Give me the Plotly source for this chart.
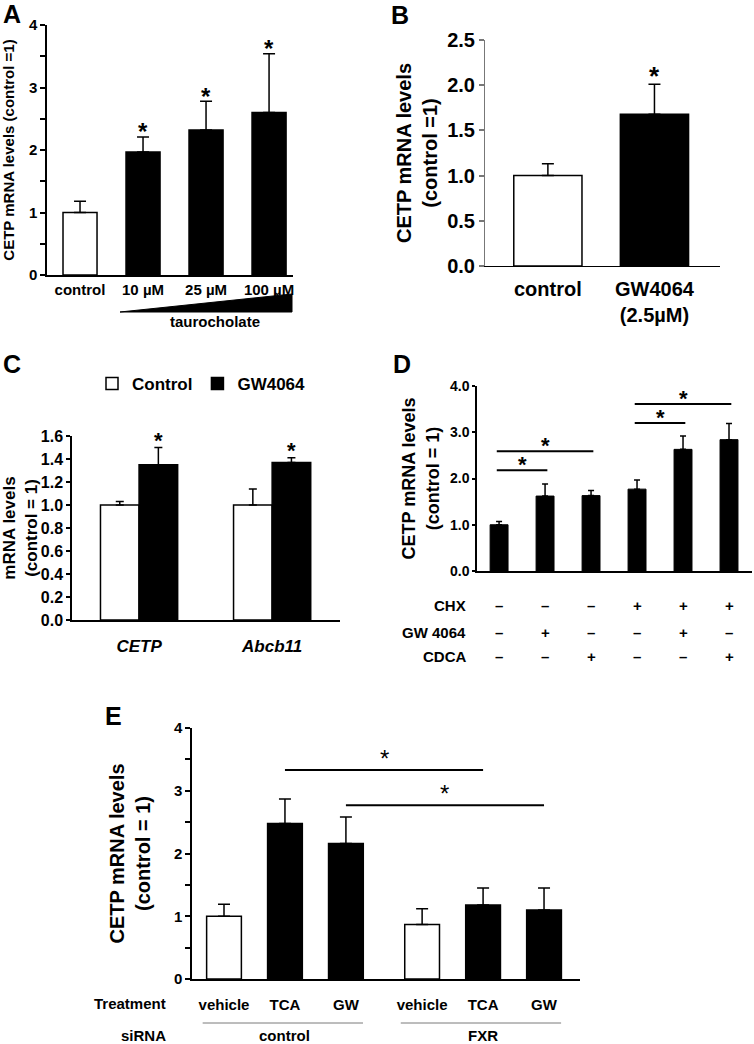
import plotly.graph_objects as go

FONT = "Liberation Sans, Arial, Helvetica, sans-serif"
W, H = 754, 1044

# ---------------- data ----------------
A_labels = ["control", "10 µM", "25 µM", "100 µM"]
A_values = [1.00, 1.97, 2.32, 2.60]
A_err = [0.18, 0.24, 0.46, 0.94]
A_fill = ["white", "black", "black", "black"]
A_star = [False, True, True, True]
A_yticks = [0, 0.5, 1, 1.5, 2, 2.5, 3, 3.5, 4]
A_yticktext = ["0", "", "1", "", "2", "", "3", "", "4"]

B_labels = ["control", "GW4064<br>(2.5µM)"]
B_values = [1.00, 1.68]
B_err = [0.13, 0.33]
B_fill = ["white", "black"]
B_star = [False, True]
B_yticks = [0, 0.5, 1.0, 1.5, 2.0, 2.5]
B_yticktext = ["0.0", "0.5", "1.0", "1.5", "2.0", "2.5"]

C_genes = ["<i>CETP</i>", "<i>Abcb11</i>"]
C_control = [1.00, 1.00]
C_control_err = [0.03, 0.14]
C_gw = [1.35, 1.37]
C_gw_err = [0.15, 0.04]
C_star = [True, True]
C_yticks = [0, 0.2, 0.4, 0.6, 0.8, 1.0, 1.2, 1.4, 1.6]
C_yticktext = ["0.0", "0.2", "0.4", "0.6", "0.8", "1.0", "1.2", "1.4", "1.6"]

D_values = [1.00, 1.62, 1.63, 1.77, 2.63, 2.84]
D_err = [0.07, 0.26, 0.11, 0.20, 0.29, 0.35]
D_rows = ["CHX", "GW 4064", "CDCA"]
D_chx = ["–", "–", "–", "+", "+", "+"]
D_gw = ["–", "+", "–", "–", "+", "–"]
D_cdca = ["–", "–", "+", "–", "–", "+"]
D_sig = [(0, 1, 2.18), (0, 2, 2.59), (3, 4, 3.20), (3, 5, 3.61)]
D_yticks = [0, 1, 2, 3, 4]
D_yticktext = ["0.0", "1.0", "2.0", "3.0", "4.0"]

E_treat = ["vehicle", "TCA", "GW", "vehicle", "TCA", "GW"]
E_sirna = ["control", "control", "control", "FXR", "FXR", "FXR"]
E_values = [1.00, 2.48, 2.16, 0.87, 1.18, 1.10]
E_err = [0.19, 0.39, 0.42, 0.25, 0.27, 0.35]
E_fill = ["white", "black", "black", "white", "black", "black"]
E_sig = [(1, 4, 3.33), (2, 5, 2.77)]
E_yticks = [0, 0.5, 1, 1.5, 2, 2.5, 3, 3.5, 4]
E_yticktext = ["0", "", "1", "", "2", "", "3", "", "4"]


# ---------------- helpers ----------------
def px(x):
    return x / W


def py(y):
    return 1 - y / H


def font(size, color="black", italic=False):
    d = dict(family=FONT, size=size, color=color, weight="bold")
    if italic:
        d["style"] = "italic"
    return d


def errs(vals, cap, thick=1.5):
    return dict(type="data", symmetric=False, array=vals,
                arrayminus=[0] * len(vals), color="black",
                thickness=thick, width=cap)


fig = go.Figure()
annotations = []
shapes = []


def note(**kw):
    d = dict(showarrow=False, xanchor="center", yanchor="middle")
    d.update(kw)
    annotations.append(d)


# ---------------- Panel A ----------------
fig.add_trace(go.Bar(x=A_labels, y=A_values, width=0.54,
                     marker=dict(color=A_fill, line=dict(color="black", width=1.5)),
                     error_y=errs(A_err, 6), xaxis="x", yaxis="y", showlegend=False))
for lab, v, e, s in zip(A_labels, A_values, A_err, A_star):
    if s:
        note(x=lab, y=v + e, xref="x", yref="y", text="*", font=font(24), yshift=5)

# ---------------- Panel B ----------------
fig.add_trace(go.Bar(x=B_labels, y=B_values, width=0.64,
                     marker=dict(color=B_fill, line=dict(color="black", width=1.5)),
                     error_y=errs(B_err, 6), xaxis="x2", yaxis="y2", showlegend=False))
for lab, v, e, s in zip(B_labels, B_values, B_err, B_star):
    if s:
        note(x=lab, y=v + e, xref="x2", yref="y2", text="*", font=font(26), yshift=8)

# ---------------- Panel C ----------------
fig.add_trace(go.Bar(x=C_genes, y=C_control, width=0.29, offset=-0.29, name="Control",
                     marker=dict(color="white", line=dict(color="black", width=1.5)),
                     error_y=errs(C_control_err, 4), xaxis="x3", yaxis="y3", showlegend=True))
fig.add_trace(go.Bar(x=C_genes, y=C_gw, width=0.29, offset=0.0, name="GW4064",
                     marker=dict(color="black", line=dict(color="black", width=1.5)),
                     error_y=errs(C_gw_err, 4), xaxis="x3", yaxis="y3", showlegend=True))
for i, (g, v, e, s) in enumerate(zip(C_genes, C_gw, C_gw_err, C_star)):
    if s:
        note(x=i + 0.145, y=v + e, xref="x3", yref="y3", text="*", font=font(22), yshift=7)

# ---------------- Panel D ----------------
D_x = list(range(len(D_values)))
fig.add_trace(go.Bar(x=D_x, y=D_values, width=0.39,
                     marker=dict(color="black", line=dict(color="black", width=1)),
                     error_y=errs(D_err, 3), xaxis="x4", yaxis="y4", showlegend=False))
for a, b, yv in D_sig:
    shapes.append(dict(type="line", xref="x4", yref="y4", x0=a - 0.05, x1=b + 0.05,
                       y0=yv, y1=yv, line=dict(color="black", width=2)))
    note(x=(a + b) / 2, y=yv, xref="x4", yref="y4", text="*", font=font(22), yshift=6)
row_y = [605, 632, 656]
for rname, row, ry in zip(D_rows, [D_chx, D_gw, D_cdca], row_y):
    note(x=px(468), y=py(ry), xref="paper", yref="paper", text=rname,
         font=font(15), xanchor="right")
    for xi, sym in zip(D_x, row):
        note(x=xi, y=py(ry), xref="x4", yref="paper", text=sym, font=font(15))

# ---------------- Panel E ----------------
E_x = [i + (0.25 if s == "FXR" else 0.0) for i, s in enumerate(E_sirna)]
fig.add_trace(go.Bar(x=E_x, y=E_values, width=0.57,
                     marker=dict(color=E_fill, line=dict(color="black", width=1.5)),
                     error_y=errs(E_err, 6), xaxis="x5", yaxis="y5", showlegend=False))
for a, b, yv in E_sig:
    shapes.append(dict(type="line", xref="x5", yref="y5", x0=E_x[a], x1=E_x[b],
                       y0=yv, y1=yv, line=dict(color="black", width=2)))
    note(x=(E_x[a] + E_x[b]) / 2, y=yv, xref="x5", yref="y5", text="*",
         font=dict(family=FONT, size=24, color="black"), yshift=12)
for grp in ["control", "FXR"]:
    xs = [x for x, s in zip(E_x, E_sirna) if s == grp]
    shapes.append(dict(type="line", xref="x5", yref="paper", x0=min(xs) - 0.35,
                       x1=max(xs) + 0.28, y0=py(1023), y1=py(1023),
                       line=dict(color="#7a7a7a", width=1)))
    note(x=sum(xs) / len(xs), y=py(1035), xref="x5", yref="paper", text=grp, font=font(15))
note(x=px(168), y=py(1003), xref="paper", yref="paper", text="Treatment",
     font=font(15), xanchor="right")
note(x=px(168), y=py(1035), xref="paper", yref="paper", text="siRNA",
     font=font(15), xanchor="right")

# taurocholate wedge
shapes.append(dict(type="path", xref="paper", yref="paper",
                   path=f"M {px(120)},{py(312)} L {px(292)},{py(294)} L {px(292)},{py(312)} Z",
                   fillcolor="black", line=dict(color="black", width=1)))
note(x=px(215), y=py(321), xref="paper", yref="paper", text="taurocholate", font=font(15))

# panel letters
for letter, (lx, ly) in zip("ABCDE", [(12, 14), (400, 15), (12, 364), (402, 364), (113, 716)]):
    note(x=px(lx), y=py(ly), xref="paper", yref="paper", text=letter, font=font(25))


# ---------------- axes ----------------
def yaxis(dom, rng, tv, tt, size, title, tsize, standoff, ticklen=5, lc="black", lw=1.5, **kw):
    d = dict(domain=dom, range=rng, tickvals=tv, ticktext=tt, ticks="outside",
             ticklen=ticklen, tickwidth=1.5, tickcolor=lc, showline=True, linecolor=lc,
             linewidth=lw, showgrid=False, zeroline=False, tickfont=font(size),
             title=dict(text=title, font=font(tsize), standoff=standoff), fixedrange=True)
    d.update(kw)
    return d


def xaxis(dom, rng, size=15, showlabels=True, standoff=4, lw=1.5, **kw):
    d = dict(domain=dom, range=rng, showline=True, linecolor="black", linewidth=lw,
             ticks="", showgrid=False, zeroline=False, tickfont=font(size),
             showticklabels=showlabels, ticklabelstandoff=standoff, fixedrange=True)
    d.update(kw)
    return d


fig.update_layout(
    width=W, height=H, margin=dict(l=0, r=0, t=0, b=0, autoexpand=False),
    paper_bgcolor="white", plot_bgcolor="white", barmode="overlay",
    font=dict(family=FONT, color="black"),
    xaxis=xaxis([px(47), px(293)], [-0.524, 3.38], size=15, standoff=0, anchor="y"),
    yaxis=yaxis([py(275), py(25)], [0, 4], A_yticks, A_yticktext, 15,
                "CETP mRNA levels (control =1)", 15, 14, anchor="x"),
    xaxis2=xaxis([px(485), px(720)], [-0.59, 1.615], size=20, standoff=5, lw=1.2, anchor="y2"),
    yaxis2=yaxis([py(266), py(40)], [0, 2.5], B_yticks, B_yticktext, 20,
                 "CETP mRNA levels<br>(control =1)", 20, 4, lc="#777777", lw=1, anchor="x2"),
    xaxis3=xaxis([px(72), px(340)], [-0.504, 1.51], size=17, standoff=10, anchor="y3"),
    yaxis3=yaxis([py(620), py(436)], [0, 1.6], C_yticks, C_yticktext, 16,
                 "mRNA levels<br>(control = 1)", 17, 0, ticklen=4, anchor="x3"),
    xaxis4=xaxis([px(477), px(752)], [-0.48, 5.5], showlabels=False, anchor="y4"),
    yaxis4=yaxis([py(571), py(386)], [0, 4], D_yticks, D_yticktext, 14,
                 "CETP mRNA levels<br>(control = 1)", 18, 6, ticklen=3, anchor="x4"),
    xaxis5=xaxis([px(192), px(580)], [-0.525, 5.84], size=15, standoff=11,
                 tickvals=E_x, ticktext=E_treat, anchor="y5"),
    yaxis5=yaxis([py(979), py(728)], [0, 4], E_yticks, E_yticktext, 15,
                 "CETP mRNA levels<br>(control = 1)", 20, 18, anchor="x5"),
    legend=dict(orientation="h", x=px(92), y=py(384), xanchor="left", yanchor="middle",
                font=font(17), bgcolor="rgba(0,0,0,0)", itemwidth=30, traceorder="normal"),
    annotations=annotations, shapes=shapes,
)

fig.write_html("out.html", config={"displayModeBar": False},
               post_script="document.body.style.margin='0px';document.body.style.padding='0px';")
